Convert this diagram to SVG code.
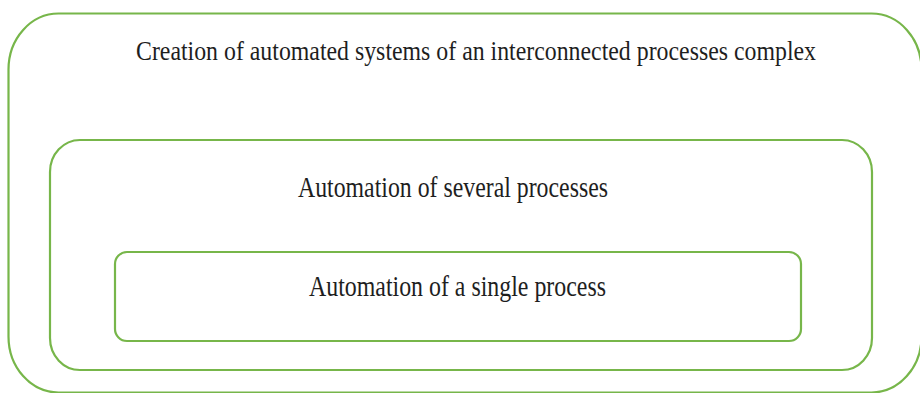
<svg xmlns="http://www.w3.org/2000/svg" width="920" height="393" viewBox="0 0 920 393">
  <style>
    .frame { fill: none; stroke: #77b64a; stroke-width: 2.2; }
    .label { font-family: "Liberation Serif", "Times New Roman", serif; font-size: 29px; fill: #1e1e1e; text-anchor: middle; }
    .title { font-size: 27px; }
  </style>
  <rect width="920" height="393" fill="#ffffff"/>

  <!-- outermost level: runs slightly past the right and bottom edges -->
  <g id="level-complex">
    <rect class="frame" x="8.5" y="13.5" width="913" height="379" rx="50" ry="56"/>
    <text class="label title" x="476" y="60" textLength="680" lengthAdjust="spacingAndGlyphs">Creation of automated systems of an interconnected processes complex</text>
  </g>

  <!-- middle level -->
  <g id="level-several">
    <rect class="frame" x="50" y="140" width="822" height="230" rx="30" ry="32"/>
    <text class="label" x="453" y="197" textLength="310" lengthAdjust="spacingAndGlyphs">Automation of several processes</text>
  </g>

  <!-- innermost level -->
  <g id="level-single">
    <rect class="frame" x="115" y="252" width="686" height="89" rx="12" ry="12"/>
    <text class="label" x="457.5" y="295.5" textLength="297" lengthAdjust="spacingAndGlyphs">Automation of a single process</text>
  </g>

  <g id="connectors"/>
</svg>
